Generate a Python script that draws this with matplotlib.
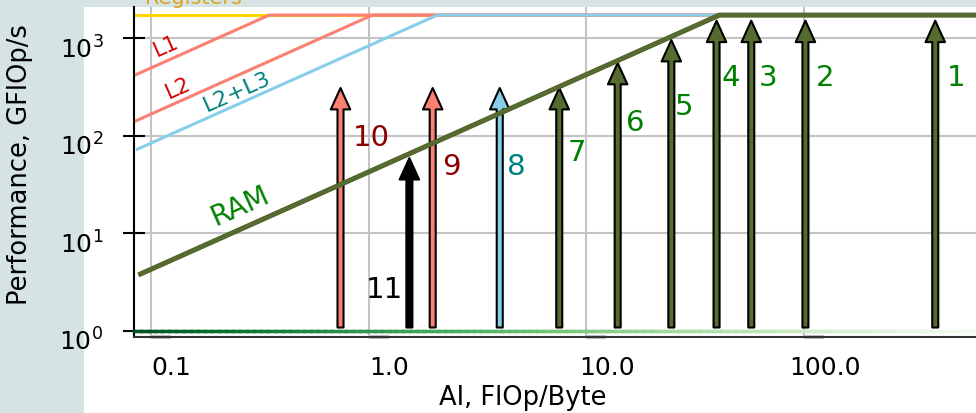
import numpy as np
import matplotlib
matplotlib.use("Agg")
import matplotlib.pyplot as plt
import matplotlib.patheffects as pe
from matplotlib.patches import Rectangle
from matplotlib.collections import LineCollection
from matplotlib.transforms import ScaledTranslation

# ----------------------------------------------------------------------
# data
# ----------------------------------------------------------------------
peak = 1730.0                       # GFlOp/s
roof_names = ["L1", "L2", "L2+L3", "RAM"]
roof_bw = [4940.0, 1660.0, 836.0, 42.5]     # GB/s
roof_start = [0.08, 0.08, 0.087, 0.088]
roof_colors = ["salmon", "salmon", "skyblue", "darkolivegreen"]

kernel_ids = ["1", "2", "3", "4", "5", "6", "7", "8", "9", "10", "11"]
kernel_ai = [398, 101, 57, 39.5, 24.5, 13.9, 7.5, 4.0, 1.97, 0.744, 1.54]
kernel_perf = [1515, 1515, 1515, 1515, 960, 559, 309, 309, 309, 309, 59]
kernel_colors = ["darkolivegreen"] * 7 + ["skyblue", "salmon", "salmon", "black"]
label_colors = ["green"] * 7 + ["teal", "darkred", "darkred", "black"]
label_x = [497, 124, 68.4, 45.8, 27.9, 16.7, 9.06, 4.76, 2.40, 1.03, 1.18]
label_y = [392, 392, 392, 392, 197, 135, 66.7, 47.9, 47.9, 94.8, 2.62]

x_ticks = [0.1, 1.0, 10.0, 100.0]
x_ticklabels = ["0.1", "1.0", "10.0", "100.0"]
y_ticks = [1, 10, 100, 1000]

x_lim = (0.084, 612)
y_lim = (0.863, 2094)
arrow_base = 1.08

# ----------------------------------------------------------------------
fig = plt.figure(figsize=(9.76, 4.13), dpi=100, facecolor="#d5e3e2")
fig.patches.append(Rectangle((84 / 976, 0), 1, 406 / 413, transform=fig.transFigure,
                             facecolor="white", edgecolor="none", zorder=-10))
ax = fig.add_axes([134 / 976, 1 - 337 / 413, 842 / 976, 330 / 413])
ax.set_facecolor("white")
ax.set_xscale("log")
ax.set_yscale("log")
ax.set_xlim(*x_lim)
ax.set_ylim(*y_lim)

# registers roof
ax.plot([x_lim[0], x_lim[1]], [peak, peak], color="gold", lw=2.2, zorder=2, clip_on=False)
ax.text(0.157, 2060, "Registers", color="goldenrod", fontsize=15, ha="center",
        va="bottom", clip_on=False)

# memory roofs
for i, (name, bw, x0, c) in enumerate(zip(roof_names, roof_bw, roof_start, roof_colors)):
    ridge = peak / bw
    xs = np.array([x0, ridge, x_lim[1]])
    ys = np.minimum(bw * xs, peak)
    if name == "RAM":
        ax.plot(xs, ys, color=c, lw=2.8, zorder=6, solid_capstyle="butt",
                path_effects=[pe.Stroke(linewidth=3.6, foreground="#4a5e24"), pe.Normal()])
    else:
        ax.plot(xs, ys, color=c, lw=2.2, zorder=2 + i * 0.1)

ax.text(0.1178, 820, "L1", color="#d40000", fontsize=15.5, rotation=24, ha="center", va="center")
ax.text(0.1336, 310, "L2", color="#d40000", fontsize=15.5, rotation=24, ha="center", va="center")
ax.text(0.249, 280, "L2+L3", color="teal", fontsize=16, rotation=24, ha="center", va="center")
ax.text(0.257, 19, "RAM", color="green", fontsize=20, rotation=24, ha="center", va="center")

# gradient baseline at 1 GFlOp/s
gx = np.logspace(np.log10(x_lim[0]), np.log10(x_lim[1]), 120)
pts = np.column_stack([gx, np.ones_like(gx)]).reshape(-1, 1, 2)
segs = np.concatenate([pts[:-1], pts[1:]], axis=1)
cmap = plt.get_cmap("Greens")
grad = LineCollection(segs, colors=cmap(np.linspace(0.95, 0.05, len(segs))),
                      linewidths=2.5, zorder=5, clip_on=False, capstyle="projecting")
ax.add_collection(grad)

# kernels
for k, a, p, c in zip(kernel_ids, kernel_ai, kernel_perf, kernel_colors):
    ax.annotate("", xy=(a, p), xytext=(a, arrow_base),
                arrowprops=dict(arrowstyle="simple,head_length=0.55,head_width=0.5,tail_width=0.155",
                                mutation_scale=28, fc=c, ec="black", lw=1.5,
                                shrinkA=0, shrinkB=0), zorder=4)
for k, x, y, c in zip(kernel_ids, label_x, label_y, label_colors):
    ax.text(x, y, k, color=c, fontsize=21, ha="center", va="center", zorder=7)

# axes styling
ax.grid(True, which="major", color="#c4c4c4", lw=1.5)
ax.set_axisbelow(True)
ax.minorticks_off()
ax.set_xticks(x_ticks)
ax.set_xticklabels(x_ticklabels)
ax.set_yticks(y_ticks)
for s in ["top", "right"]:
    ax.spines[s].set_visible(False)
ax.spines["left"].set_linewidth(1.5)
ax.spines["left"].set_color("black")
ax.spines["bottom"].set_linewidth(1.5)
ax.spines["bottom"].set_color("#333333")

ax.tick_params(axis="y", direction="inout", length=16, width=1.5, labelsize=18, pad=14)
ax.tick_params(axis="x", length=14, width=3, color="#c4c4c4", labelsize=18, pad=0)

dx = ScaledTranslation(21 / 100, 0, fig.dpi_scale_trans)
dy = ScaledTranslation(0, -9 / 100, fig.dpi_scale_trans)
dmark = ScaledTranslation(10 / 100, 0, fig.dpi_scale_trans)
for t in ax.xaxis.get_major_ticks():
    t.label1.set_transform(t.label1.get_transform() + dx)
    t.tick1line.set_marker("_")
    t.tick1line.set_markersize(14)
    t.tick1line.set_markeredgewidth(3)
    t.tick1line.set_transform(t.tick1line.get_transform() + dmark)
for t in ax.yaxis.get_major_ticks():
    t.label1.set_transform(t.label1.get_transform() + dy)

fig.text(20 / 976, 1 - 165 / 413, "Performance, GFlOp/s", rotation=90, fontsize=18.5,
         ha="center", va="center")
fig.text(523 / 976, 1 - 398 / 413, "AI, FlOp/Byte", fontsize=18.5, ha="center", va="center")

fig.savefig("out.png", dpi=100, facecolor=fig.get_facecolor())
